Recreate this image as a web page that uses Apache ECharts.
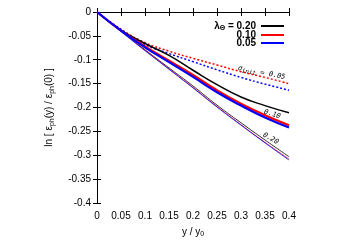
<!DOCTYPE html>
<html>
<head>
<meta charset="utf-8">
<script src="https://cdn.jsdelivr.net/npm/echarts@6/dist/echarts.min.js"></script>
<style>
  html, body { margin: 0; padding: 0; background: #fff; }
  #chart { width: 350px; height: 245px; }
</style>
</head>
<body>
<div id="chart"></div>
<script>
// y / y0 sample points
const yRatio = [0, 0.05, 0.1, 0.15, 0.2, 0.25, 0.3, 0.35, 0.4];

// sigma_init = 0.05 (dotted)
const dotRed  = [0, -0.036, -0.064, -0.082, -0.097, -0.111, -0.125, -0.137, -0.150];
const dotBlue = [0, -0.037, -0.068, -0.087, -0.104, -0.121, -0.137, -0.151, -0.164];

// sigma_init = 0.10 (thick)
const thickBlack = [0, -0.038, -0.066, -0.091, -0.122, -0.152, -0.178, -0.196, -0.211];
const thickRed   = [0, -0.039, -0.072, -0.102, -0.132, -0.164, -0.192, -0.216, -0.237];
const thickBlue  = [0, -0.039, -0.074, -0.105, -0.136, -0.168, -0.196, -0.221, -0.242];

// sigma_init = 0.20 (thin)
const thinBlack = [0, -0.040, -0.079, -0.117, -0.155, -0.195, -0.232, -0.268, -0.303];
const thinRed   = [0, -0.040, -0.080, -0.119, -0.158, -0.198, -0.236, -0.273, -0.308];
const thinBlue  = [0, -0.041, -0.081, -0.120, -0.159, -0.199, -0.237, -0.274, -0.310];

const lambdas = ['0.20', '0.10', '0.05'];

// curve annotations: [text, x, y, angle in degrees]
const notes = [
  ['{i|σ}{s|init}{i| = 0.05}', 0.343, -0.127, -11],
  ['{i|0.10}', 0.365, -0.214, -17],
  ['{i|0.20}', 0.362, -0.265, -30]
];

const font = 'Liberation Sans, Arial, sans-serif';

function pts (arr) {
  return yRatio.map((x, i) => [x, arr[i]]);
}

function line (name, arr, color, width, type) {
  return {
    name: name,
    type: 'line',
    data: pts(arr),
    smooth: true,
    symbol: 'none',
    silent: true,
    lineStyle: { color: color, width: width, type: type || 'solid' },
    itemStyle: { color: color },
    z: 3
  };
}

var chartDom = document.getElementById('chart');
var myChart = echarts.init(chartDom);
var option;

option = {
  animation: false,
  grid: { left: 97, top: 12, right: 61, bottom: 42 },
  xAxis: [
    {
      type: 'value', min: 0, max: 0.4, interval: 0.05,
      name: '{n|y / y}{s|0}', nameLocation: 'middle', nameGap: 22,
      nameTextStyle: {
        verticalAlign: 'middle',
        rich: {
          n: { fontFamily: font, fontSize: 10, color: '#000', lineHeight: 12 },
          s: { fontFamily: font, fontSize: 7, color: '#000', lineHeight: 12, padding: [5, 0, 0, 0] }
        }
      },
      axisLine: { lineStyle: { color: '#000', width: 1 } },
      axisTick: { inside: true, length: 4, lineStyle: { color: '#000' } },
      axisLabel: { color: '#000', fontFamily: font, fontSize: 10, margin: 8 },
      splitLine: { show: false }
    },
    {
      type: 'value', min: 0, max: 0.4, interval: 0.05, position: 'top',
      axisLine: { lineStyle: { color: '#000', width: 1 } },
      axisTick: { inside: true, length: 4, lineStyle: { color: '#000' } },
      axisLabel: { show: false },
      splitLine: { show: false }
    }
  ],
  yAxis: [
    {
      type: 'value', min: -0.4, max: 0, interval: 0.05,
      name: '{n|ln [ ε}{s|ph}{n|(y) / ε}{s|ph}{n|(0) ]}', nameLocation: 'middle', nameGap: 41,
      nameTextStyle: {
        rich: {
          n: { fontFamily: font, fontSize: 10, color: '#000' },
          s: { fontFamily: font, fontSize: 7, color: '#000', padding: [6, 0, 0, 0] }
        }
      },
      axisLine: { lineStyle: { color: '#000', width: 1 } },
      axisTick: { inside: true, length: 4, lineStyle: { color: '#000' } },
      axisLabel: { color: '#000', fontFamily: font, fontSize: 10, margin: 6 },
      splitLine: { show: false }
    },
    {
      type: 'value', min: -0.4, max: 0, interval: 0.05, position: 'right',
      axisLine: { show: true, lineStyle: { color: '#000', width: 1 } },
      axisTick: { show: true, inside: true, length: 4, lineStyle: { color: '#000' } },
      axisLabel: { show: false },
      splitLine: { show: false }
    }
  ],
  legend: {
    orient: 'vertical',
    right: 66,
    top: 20,
    padding: 0,
    align: 'right',
    itemWidth: 23,
    itemHeight: 9,
    itemGap: -2,
    icon: 'path://M0,0h23v2h-23z',
    data: lambdas,
    formatter: function (name) {
      if (name === lambdas[0]) return '{a|λ}{s|Θ}{b| = ' + name + '}';
      return '{b|' + name + '}';
    },
    textStyle: {
      color: '#000', fontFamily: font, fontSize: 10, fontWeight: 'bold', lineHeight: 9,
      rich: {
        a: { fontFamily: font, fontSize: 10, color: '#000', lineHeight: 9 },
        s: { fontFamily: font, fontSize: 7, color: '#000', lineHeight: 9, padding: [5, 0, 0, 0] },
        b: { fontFamily: font, fontSize: 10, fontWeight: 'bold', color: '#000', lineHeight: 9 }
      }
    }
  },
  series: [
    line('dotRed', dotRed, '#ff0000', 1.5, [2, 2]),
    line('dotBlue', dotBlue, '#0000ff', 1.5, [2, 2]),
    line('thinBlack', thinBlack, '#000000', 0.8),
    line('thinRed', thinRed, '#ff0000', 0.8),
    line('thinBlue', thinBlue, '#0000ff', 0.8),
    line(lambdas[0], thickBlack, '#000000', 1.5),
    line(lambdas[1], thickRed, '#ff0000', 2.2),
    line(lambdas[2], thickBlue, '#0000ff', 2.2)
  ]
};

option && myChart.setOption(option);

// place the curve annotations in data coordinates
myChart.setOption({
  graphic: notes.map(function (n) {
    var p = myChart.convertToPixel({ gridIndex: 0 }, [n[1], n[2]]);
    return {
      type: 'text',
      x: p[0], y: p[1],
      rotation: n[3] * Math.PI / 180,
      z: 10,
      style: {
        text: n[0],
        align: 'center',
        verticalAlign: 'middle',
        rich: {
          i: { fontFamily: 'DejaVu Sans Mono', fontStyle: 'italic', fontSize: 7, fill: '#000' },
          s: { fontFamily: 'DejaVu Sans Mono', fontStyle: 'italic', fontSize: 6, fill: '#000', padding: [4, 0, 0, 0] }
        }
      }
    };
  })
});
</script>
</body>
</html>
